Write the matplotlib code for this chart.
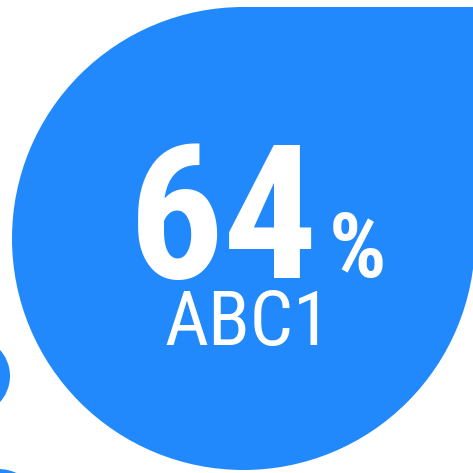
import matplotlib
matplotlib.use('Agg')
import matplotlib.pyplot as plt
from matplotlib.patches import Circle, Rectangle

# 數據
value = 64
unit = '%'
label = 'ABC1'

blue = '#2189FB'
fam = ['Roboto Condensed', 'Roboto']

fig = plt.figure(figsize=(4.73, 4.73), dpi=100)
ax = fig.add_axes([0, 0, 1, 1])
ax.set_xlim(0, 473)
ax.set_ylim(473, 0)
ax.axis('off')

# 水滴形狀: 圓 + 右上角方塊
cx, cy, r = 243.5, 238.5, 231.5
ax.add_patch(Circle((cx, cy), r, color=blue, lw=0))
ax.add_patch(Rectangle((cx, cy - r), 240, r, color=blue, lw=0))

# 邊緣露出的小圓
ax.add_patch(Circle((-29, 376), 39, color=blue, lw=0))
ax.add_patch(Circle((-2, 514), 45, color=blue, lw=0))

ax.text(129, 278, str(value), family=fam, fontweight='bold', fontsize=135,
        color='white', ha='left', va='baseline')
ax.text(329, 277, unit, family=fam, fontweight='bold', fontsize=65,
        color='white', ha='left', va='baseline')
ax.text(164, 345, label, family=fam, fontsize=55,
        color='white', ha='left', va='baseline')

fig.savefig('out.png', dpi=100)
